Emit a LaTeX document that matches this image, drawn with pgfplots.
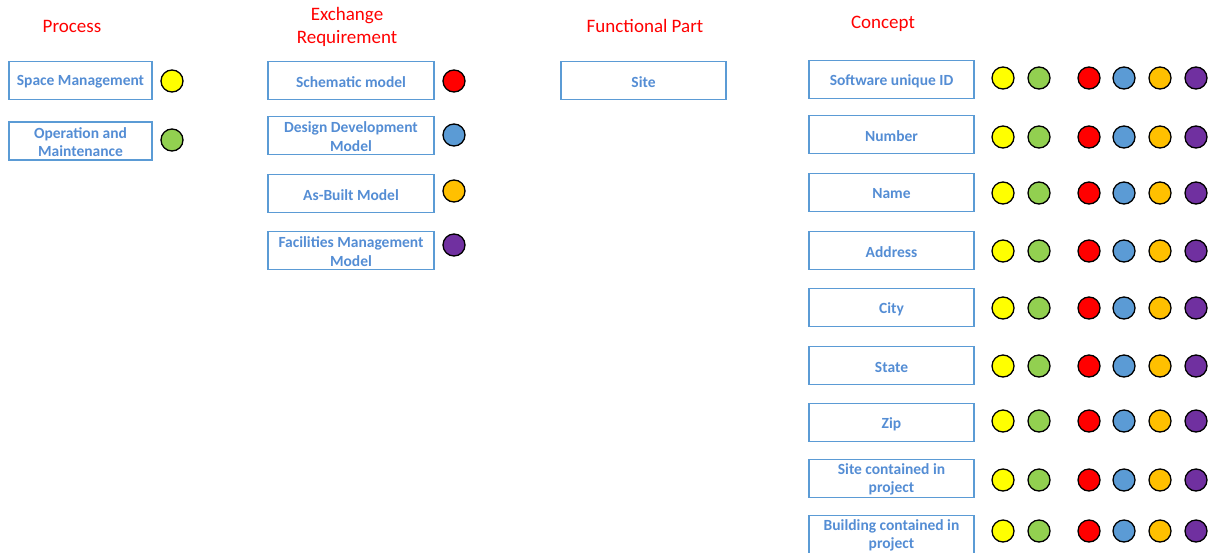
\documentclass[border=0pt]{standalone}
\usepackage{fontspec}
\setmainfont{Carlito}
\usepackage{pgfplots}
\pgfplotsset{compat=1.18}
\definecolor{cyel}{HTML}{FFFF00}
\definecolor{cgrn}{HTML}{92D050}
\definecolor{cred}{HTML}{FF0000}
\definecolor{cblu}{HTML}{5B9BD5}
\definecolor{corg}{HTML}{FFC000}
\definecolor{cpur}{HTML}{7030A0}
\definecolor{boxline}{HTML}{5B9BD5}
\definecolor{boxtext}{HTML}{548DD4}
\tikzset{
  bx/.style={draw=boxline, line width=1.6pt, inner sep=0pt, minimum height=38pt},
  bt/.style={inner sep=0pt, align=center, text=boxtext,
    font=\bfseries\fontsize{15.5}{18.5}\selectfont},
  hd/.style={text=red, align=center, font=\fontsize{19}{23}\selectfont, inner sep=0pt}
}
\pgfplotsset{dot/.style={only marks, mark=*, mark size=11pt, line width=1.3pt,
   mark options={draw=black, fill=#1}, draw=black}}
\begin{document}
\begin{tikzpicture}
\begin{axis}[scale only axis, width=1217pt, height=552pt,
  xmin=0, xmax=1217, ymin=0, ymax=552, y dir=reverse, hide axis, clip=false]
% headers
\node[hd] at (axis cs:72,26) {Process};
\node[hd] at (axis cs:347,27) {Exchange\\Requirement};
\node[hd] at (axis cs:645,26) {Functional Part};
\node[hd] at (axis cs:883,24) {Concept};
% process boxes
\node[bx, minimum width=143pt] at (axis cs:80.5,80.5) {};
\node[bt] at (axis cs:80.5,82) {Space Management};
\node[bx, minimum width=143pt] at (axis cs:80.5,141) {};
\node[bt] at (axis cs:80.5,142) {Operation and\\Maintenance};
% exchange boxes
\node[bx, minimum width=166pt] at (axis cs:351,80.5) {};
\node[bt] at (axis cs:351,82) {Schematic model};
\node[bx, minimum width=166pt] at (axis cs:351,135.5) {};
\node[bt] at (axis cs:351,136.5) {Design Development\\Model};
\node[bx, minimum width=166pt] at (axis cs:351,193.5) {};
\node[bt] at (axis cs:351,195) {As-Built Model};
\node[bx, minimum width=166pt] at (axis cs:351,250.5) {};
\node[bt] at (axis cs:351,251.5) {Facilities Management\\Model};
% functional part
\node[bx, minimum width=165pt] at (axis cs:643.5,80.5) {};
\node[bt] at (axis cs:643.5,82) {Site};
% concepts
\node[bx, minimum width=165pt] at (axis cs:891.5,79.5) {};
\node[bt] at (axis cs:891.5,81) {Software unique ID};
\node[bx, minimum width=165pt] at (axis cs:891.5,134.5) {};
\node[bt] at (axis cs:891.5,136) {Number};
\node[bx, minimum width=165pt] at (axis cs:891.5,192.5) {};
\node[bt] at (axis cs:891.5,194) {Name};
\node[bx, minimum width=165pt] at (axis cs:891.5,250.5) {};
\node[bt] at (axis cs:891.5,252) {Address};
\node[bx, minimum width=165pt] at (axis cs:891.5,307.5) {};
\node[bt] at (axis cs:891.5,309) {City};
\node[bx, minimum width=165pt] at (axis cs:891.5,365.5) {};
\node[bt] at (axis cs:891.5,367) {State};
\node[bx, minimum width=165pt] at (axis cs:891.5,422.5) {};
\node[bt] at (axis cs:891.5,424) {Zip};
\node[bx, minimum width=165pt] at (axis cs:891.5,478.5) {};
\node[bt] at (axis cs:891.5,479.5) {Site contained in\\project};
\node[bx, minimum width=165pt] at (axis cs:891.5,534.5) {};
\node[bt] at (axis cs:891.5,535.5) {Building contained in\\project};
% dots
\addplot[dot=cyel] coordinates {(172,81) (1003,78) (1003,137) (1003,193) (1003,251) (1003,308) (1003,366) (1003,421) (1003,480) (1003,531)};
\addplot[dot=cgrn] coordinates {(172,140) (1039,78) (1039,137) (1039,193) (1039,251) (1039,308) (1039,366) (1039,421) (1039,480) (1039,531)};
\addplot[dot=cred] coordinates {(454,81) (1089,78) (1089,137) (1089,193) (1089,251) (1089,308) (1089,366) (1089,421) (1089,480) (1089,531)};
\addplot[dot=cblu] coordinates {(454,135) (1124,78) (1124,137) (1124,193) (1124,251) (1124,308) (1124,366) (1124,421) (1124,480) (1124,531)};
\addplot[dot=corg] coordinates {(454,191) (1160,78) (1160,137) (1160,193) (1160,251) (1160,308) (1160,366) (1160,421) (1160,480) (1160,531)};
\addplot[dot=cpur] coordinates {(454,245) (1196,78) (1196,137) (1196,193) (1196,251) (1196,308) (1196,366) (1196,421) (1196,480) (1196,531)};
\end{axis}
\pgfresetboundingbox
\path[use as bounding box] (current axis.south west) rectangle (current axis.north east);
\end{tikzpicture}
\end{document}
